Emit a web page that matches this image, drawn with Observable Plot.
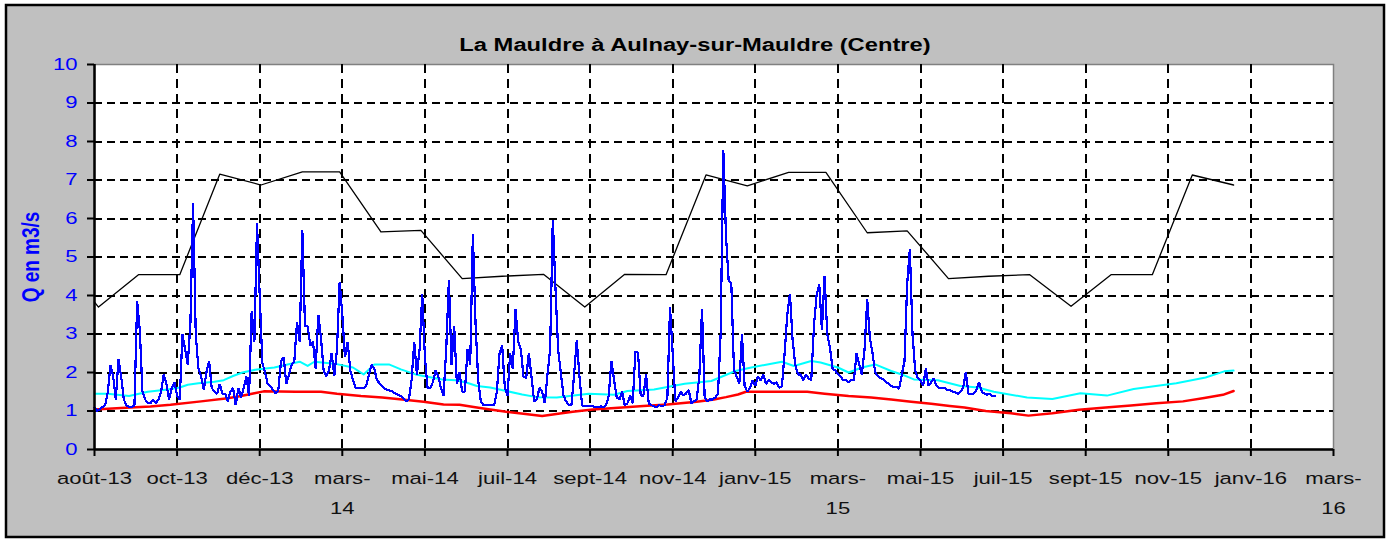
<!DOCTYPE html>
<html>
<head>
<meta charset="utf-8">
<script src="https://cdn.jsdelivr.net/npm/d3@7"></script>
<script src="https://cdn.jsdelivr.net/npm/@observablehq/plot@0.6"></script>
<style>
  html, body { margin: 0; padding: 0; background: #ffffff; }
  svg { display: block; }
</style>
</head>
<body>
<div id="chart"></div>
<script>
// ---------- texts ----------
const chartTitle = "La Mauldre à Aulnay-sur-Mauldre (Centre)";
const yTitle = "Q en m3/s";

// ---------- axes ----------
const xTickDates = ["2013-08-29","2013-10-30","2013-12-31","2014-03-03","2014-05-04","2014-07-05",
  "2014-09-05","2014-11-06","2015-01-07","2015-03-10","2015-05-11","2015-07-12",
  "2015-09-12","2015-11-13","2016-01-14","2016-03-16"];
const xTickLabels = ["août-13","oct-13","déc-13","mars-\n14","mai-14","juil-14",
  "sept-14","nov-14","janv-15","mars-\n15","mai-15","juil-15",
  "sept-15","nov-15","janv-16","mars-\n16"];
const yTicks = [0,1,2,3,4,5,6,7,8,9,10];
const yGrid = [1,2,3,4,5,6,7,8,9];

// ---------- daily flow (blue), read every 2 days from 2013-08-29 ----------
const flowStart = "2013-08-29";
const flowStepDays = 2;
const flowValues = [
1.1,1.0,1.05,1.1,1.15,1.5,2.2,1.9,1.3,2.35,
1.9,1.3,1.15,1.1,1.1,1.15,3.85,3.1,1.5,1.3,
1.2,1.2,1.3,1.2,1.3,1.5,1.95,1.7,1.3,1.6,
1.75,1.4,1.3,3.0,2.6,2.2,3.3,6.4,3.0,2.1,
1.9,1.55,2.0,2.3,1.6,1.5,1.45,1.7,1.45,1.45,
1.25,1.5,1.6,1.15,1.6,1.35,1.6,1.9,1.4,3.6,
2.8,5.88,4.0,2.25,2.0,1.7,1.65,1.55,1.45,1.55,
2.3,2.4,1.7,1.95,2.2,2.3,3.3,2.8,5.7,3.2,
3.2,2.7,2.8,2.1,3.5,2.9,2.05,1.9,2.05,2.5,
1.9,2.6,4.35,3.5,2.4,2.8,2.05,1.8,1.6,1.6,
1.6,1.6,1.65,1.95,2.2,2.1,1.8,1.72,1.65,1.58,
1.55,1.52,1.5,1.45,1.42,1.38,1.32,1.25,1.3,1.8,
2.8,1.95,2.6,4.05,2.4,1.6,1.6,1.75,2.05,1.9,
1.6,1.4,2.6,4.4,2.2,3.2,1.7,2.0,1.5,1.5,
2.6,2.2,5.6,3.3,1.8,1.25,1.15,1.15,1.15,1.15,
1.15,1.5,2.5,2.7,1.6,1.4,2.5,2.1,3.65,2.8,
2.6,1.9,1.85,2.5,1.9,1.25,1.3,1.6,1.5,1.2,
1.95,2.6,5.97,4.2,2.6,2.0,1.4,1.25,1.15,1.15,
1.95,2.85,1.9,1.15,1.12,1.12,1.12,1.12,1.1,1.1,
1.12,1.1,1.15,1.4,2.3,1.8,1.35,1.3,1.5,1.15,
1.2,1.4,1.2,2.55,2.5,1.4,1.4,1.95,1.2,1.15,
1.12,1.1,1.15,1.12,1.15,1.35,3.7,2.5,1.25,1.35,
1.5,1.4,1.45,1.55,1.2,1.25,1.3,1.9,3.65,1.35,
1.25,1.3,1.3,1.35,1.45,3.0,7.77,5.55,4.4,4.3,
2.05,1.9,1.7,3.0,1.65,1.5,1.6,1.8,1.65,1.9,
1.8,1.95,1.7,1.8,1.75,1.7,1.75,1.6,1.65,2.5,
3.5,4.04,2.85,2.2,1.95,1.95,1.8,1.95,1.85,1.8,
3.2,4.0,4.3,3.1,4.51,3.0,2.65,2.1,2.05,1.95,
1.9,1.8,1.8,1.75,1.8,1.8,2.5,2.2,1.95,2.6,
3.9,2.9,2.5,2.0,1.9,1.85,1.82,1.75,1.72,1.65,
1.62,1.62,1.58,1.95,2.3,4.3,5.2,3.0,2.05,1.85,
1.8,1.65,2.1,1.65,1.75,1.85,1.65,1.6,1.6,1.6,
1.55,1.55,1.5,1.48,1.45,1.5,1.6,2.0,1.45,1.45,
1.45,1.55,1.75,1.5,1.45,1.42,1.45,1.38,1.38];

// ---------- cyan statistic ----------
const cyanDates = ["2013-08-29","2013-09-08","2013-09-24","2013-10-08","2013-10-23","2013-11-01",
  "2013-11-07","2013-11-15","2013-11-27","2013-12-04","2013-12-11","2013-12-18","2013-12-29",
  "2014-01-11","2014-01-30","2014-02-05","2014-02-10","2014-02-25","2014-03-11","2014-03-19",
  "2014-03-27","2014-04-07","2014-04-16","2014-04-27","2014-05-17","2014-05-27","2014-06-04",
  "2014-06-12","2014-06-22","2014-07-04","2014-07-16","2014-07-27","2014-08-11","2014-09-04",
  "2014-09-23","2014-10-03","2014-10-23","2014-11-15","2014-12-05","2014-12-14","2014-12-23",
  "2015-01-04","2015-01-16","2015-01-27","2015-02-05","2015-02-18","2015-02-25","2015-03-10",
  "2015-03-18","2015-03-28","2015-04-07","2015-04-19","2015-04-27","2015-05-06","2015-05-24",
  "2015-06-10","2015-06-23","2015-07-05","2015-07-30","2015-08-18","2015-09-08","2015-09-28",
  "2015-10-18","2015-11-19","2015-12-11","2015-12-25","2016-01-01"];
const cyanValues = [1.45,1.45,1.39,1.5,1.56,1.61,
  1.68,1.72,1.76,1.8,1.91,2.0,2.08,
  2.13,2.28,2.17,2.28,2.23,2.13,1.95,
  2.21,2.21,2.08,1.95,1.82,1.8,1.74,
  1.65,1.61,1.52,1.43,1.36,1.35,1.45,
  1.42,1.52,1.56,1.71,1.78,1.91,2.04,
  2.13,2.21,2.28,2.17,2.3,2.26,2.13,
  2.0,2.13,2.21,2.04,1.95,1.82,1.8,
  1.65,1.61,1.5,1.35,1.31,1.46,1.4,
  1.57,1.72,1.87,2.03,2.05];

// ---------- red statistic ----------
const redDates = ["2013-08-29","2013-09-18","2013-10-10","2013-10-25","2013-11-17","2013-12-07",
  "2013-12-17","2013-12-27","2014-01-03","2014-01-27","2014-02-15","2014-02-27","2014-03-17",
  "2014-04-02","2014-04-17","2014-05-03","2014-05-18","2014-05-30","2014-06-12","2014-06-22",
  "2014-07-04","2014-07-17","2014-07-31","2014-08-12","2014-08-23","2014-09-07","2014-09-29",
  "2014-10-15","2014-11-02","2014-11-24","2014-12-07","2014-12-16","2014-12-25","2014-12-31",
  "2015-01-24","2015-02-15","2015-02-28","2015-03-18","2015-04-04","2015-04-19","2015-05-04",
  "2015-05-19","2015-06-02","2015-06-13","2015-06-29","2015-07-18","2015-07-31","2015-08-18",
  "2015-09-07","2015-09-27","2015-10-16","2015-11-04","2015-11-24","2015-12-10","2015-12-24",
  "2016-01-01"];
const redValues = [1.04,1.08,1.12,1.16,1.25,1.33,
  1.39,1.46,1.51,1.5,1.5,1.45,1.39,
  1.35,1.3,1.24,1.17,1.16,1.09,1.04,
  0.98,0.93,0.87,0.93,0.98,1.04,1.09,
  1.13,1.17,1.24,1.3,1.36,1.43,1.5,
  1.5,1.5,1.45,1.39,1.35,1.3,1.24,
  1.19,1.13,1.09,1.0,0.94,0.88,0.94,
  1.03,1.09,1.14,1.2,1.25,1.34,1.42,
  1.52];

// ---------- black statistic (monthly) ----------
const blackDates = ["2013-08-29","2013-09-01","2013-10-01","2013-11-01","2013-12-01","2014-01-01",
  "2014-02-01","2014-03-01","2014-04-01","2014-05-01","2014-06-01","2014-07-01","2014-08-01",
  "2014-09-01","2014-10-01","2014-11-01","2014-12-01","2015-01-01","2015-02-01","2015-03-01",
  "2015-04-01","2015-05-01","2015-06-01","2015-07-01","2015-08-01","2015-09-01","2015-10-01",
  "2015-11-01","2015-12-01","2016-01-01"];
const blackValues = [3.83,3.7,4.54,4.54,7.15,6.87,
  7.21,7.21,5.65,5.69,4.44,4.5,4.55,
  3.7,4.55,4.54,7.13,6.85,7.2,7.2,
  5.63,5.68,4.44,4.5,4.54,3.72,4.54,
  4.54,7.13,6.87];

// ---------- build tables ----------
const parse = d3.utcParse("%Y-%m-%d");
const t0 = parse(flowStart);
const flow = flowValues.map((v, i) => ({date: d3.utcDay.offset(t0, i * flowStepDays), q: v}));
const cyan = cyanDates.map((d, i) => ({date: parse(d), q: cyanValues[i]}));
const red = redDates.map((d, i) => ({date: parse(d), q: redValues[i]}));
const black = blackDates.map((d, i) => ({date: parse(d), q: blackValues[i]}));
const xticks = xTickDates.map((d, i) => ({date: parse(d), label: xTickLabels[i]}));

const FONT = "'Liberation Sans', Arial, sans-serif";

const chart = Plot.plot({
  width: 1390,
  height: 543,
  marginLeft: 94,
  marginRight: 57,
  marginTop: 64,
  marginBottom: 94,
  style: {background: "transparent", fontFamily: FONT, overflow: "visible"},
  x: {type: "utc", domain: [xticks[0].date, xticks[xticks.length - 1].date], axis: null},
  y: {domain: [0, 10], axis: null},
  marks: [
    Plot.frame({fill: "white", stroke: "#808080", strokeWidth: 1.5}),
    Plot.ruleY(yGrid, {y: d => d, stroke: "black", strokeWidth: 2, strokeDasharray: "8,5", shapeRendering: "crispEdges"}),
    Plot.ruleX(xticks.slice(1, -1), {x: "date", stroke: "black", strokeWidth: 2, strokeDasharray: "9,6", shapeRendering: "crispEdges"}),
    Plot.line(black, {x: "date", y: "q", stroke: "black", strokeWidth: 1.3}),
    Plot.line(cyan, {x: "date", y: "q", stroke: "#00ffff", strokeWidth: 2}),
    Plot.line(red, {x: "date", y: "q", stroke: "#ff0000", strokeWidth: 2.5}),
    Plot.line(flow, {x: "date", y: "q", stroke: "#0000ff", strokeWidth: 2.2, strokeLinejoin: "miter", shapeRendering: "crispEdges"}),
    // axes lines and ticks
    Plot.ruleX([xticks[0].date], {x: d => d, stroke: "black", strokeWidth: 2.5}),
    Plot.ruleY([0], {y: d => d, stroke: "black", strokeWidth: 2.5}),
    Plot.ruleY(yTicks, {y: d => d, x1: () => xticks[0].date, x2: () => xticks[0].date, insetLeft: -7, stroke: "black", strokeWidth: 2}),
    Plot.ruleX(xticks, {x: "date", y1: () => 0, y2: () => 0, insetBottom: -7, stroke: "black", strokeWidth: 2}),
    // tick labels
    Plot.text(yTicks, {y: d => d, text: d => String(d), frameAnchor: "left", dx: -17, textAnchor: "end",
      lineAnchor: "middle", fontSize: 17, fill: "#0000ff"}),
    Plot.text(xticks, {x: "date", text: "label", frameAnchor: "bottom", dy: 13, lineAnchor: "top",
      lineHeight: 1.78, fontSize: 17, fill: "#111"}),
    Plot.text([yTitle], {text: d => d, frameAnchor: "left", dx: -63, rotate: -90, textAnchor: "middle",
      lineAnchor: "middle", fontSize: 19, fontWeight: "bold", fill: "#0000ff"}),
    Plot.text([chartTitle], {text: d => d, frameAnchor: "top", dx: -19, dy: -19, textAnchor: "middle",
      lineAnchor: "middle", fontSize: 18, fontWeight: "bold", fill: "#000"})
  ]
});

// outer gray panel with black border (decoration)
const svgSel = d3.select(chart);
svgSel.insert("rect", ":first-child")
  .attr("x", 6).attr("y", 5).attr("width", 1378).attr("height", 532)
  .attr("fill", "#c0c0c0").attr("stroke", "black").attr("stroke-width", 2.5);

// horizontally stretched lettering like the reference (text groups in mark order)
const textGroups = svgSel.selectAll("g").filter(function () {
  return this.querySelector(":scope > text") !== null;
}).nodes();
function stretch(group, sx, sy) {
  if (!group) return;
  d3.select(group).selectAll(":scope > text").each(function () {
    const t = this.getAttribute("transform");
    if (t) {
      this.setAttribute("transform", `${t} scale(${sx},${sy})`);
    } else {
      const x = this.getAttribute("x") || 0, y = this.getAttribute("y") || 0;
      this.removeAttribute("x"); this.removeAttribute("y");
      this.setAttribute("transform", `translate(${x},${y}) scale(${sx},${sy})`);
    }
  });
}
stretch(textGroups[0], 1.3, 1);   // y tick labels
stretch(textGroups[1], 1.3, 1);   // x tick labels
stretch(textGroups[2], 1, 1.3);   // y title (rotated)
stretch(textGroups[3], 1.32, 1);  // chart title

document.getElementById("chart").appendChild(chart);
</script>
</body>
</html>
